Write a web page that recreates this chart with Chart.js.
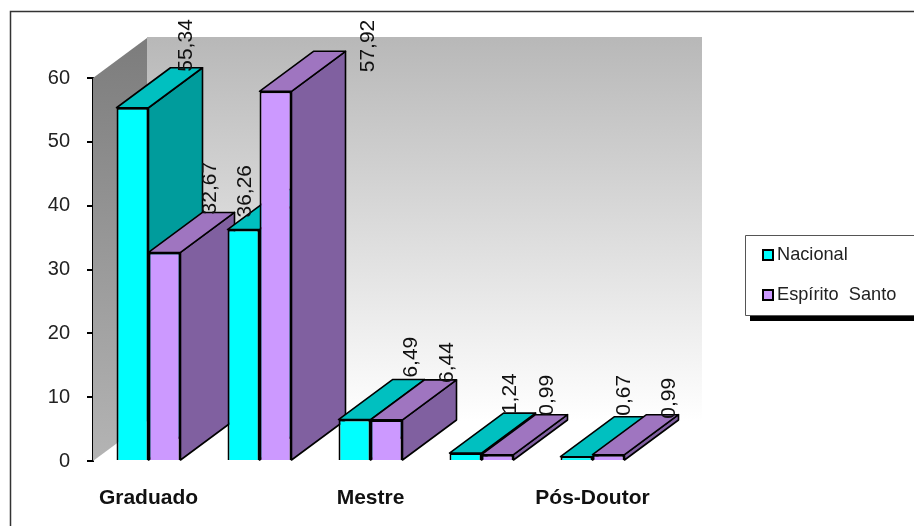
<!DOCTYPE html>
<html>
<head>
<meta charset="utf-8">
<style>
    html, body { margin: 0; padding: 0; background: #fff; }
    canvas { display: block; }
</style>
<script src="https://cdn.jsdelivr.net/npm/chart.js@4"></script>
</head>
<body>
<canvas id="chart" width="914" height="526"></canvas>
<script>
const categories = ['Graduado', '', 'Mestre', '', 'Pós-Doutor'];
const nacional = [55.34, 36.26, 6.49, 1.24, 0.67];
const espiritoSanto = [32.67, 57.92, 6.44, 0.99, 0.99];
const yTicks = [0, 10, 20, 30, 40, 50, 60];

const FONT = '"Liberation Sans", Arial, sans-serif';
const DEPTH = { x: 54, y: 40 };
const FACES = [
    { front: '#00ffff', top: '#00c0c0', side: '#009c9c' },
    { front: '#cc99ff', top: '#9f75c0', side: '#8060a0' }
];
// where Excel left each value label, relative to the top of its bar
const LABEL_SHIFT = [
    [[53.5, -36], [2, -12], [57, -42], [45, -39], [47.5, -41]],
    [[46, -38], [93, -19], [60.5, -37], [49.5, -39], [60.5, -36]]
];

function polygon(ctx, points, fill) {
    ctx.beginPath();
    points.forEach(([x, y], i) => (i ? ctx.lineTo(x, y) : ctx.moveTo(x, y)));
    ctx.closePath();
    ctx.fillStyle = fill;
    ctx.fill();
    ctx.stroke();
}

const walls = {
    id: 'walls',
    beforeDatasetsDraw(chart) {
        const { ctx, chartArea: { left, right, top, bottom } } = chart;
        const dx = DEPTH.x, dy = DEPTH.y;
        ctx.save();
        const back = ctx.createLinearGradient(0, top - dy, 0, bottom - dy);
        back.addColorStop(0, '#b8b8b8');
        back.addColorStop(1, '#ffffff');
        ctx.fillStyle = back;
        ctx.fillRect(left + dx, top - dy - 1, right - left, bottom - top + 1);

        const side = ctx.createLinearGradient(0, top - dy, 0, bottom);
        side.addColorStop(0, '#7c7c7c');
        side.addColorStop(1, '#b4b4b4');
        ctx.beginPath();
        ctx.moveTo(left, top);
        ctx.lineTo(left + dx, top - dy);
        ctx.lineTo(left + dx, bottom - dy);
        ctx.lineTo(left, bottom);
        ctx.closePath();
        ctx.fillStyle = side;
        ctx.fill();
        ctx.restore();
    }
};

// top and side faces go left to right, the fronts are the library's own bars on top
const depthFaces = {
    id: 'depthFaces',
    beforeDatasetsDraw(chart) {
        const { ctx } = chart;
        const dx = DEPTH.x, dy = DEPTH.y;
        ctx.save();
        ctx.strokeStyle = '#000';
        ctx.lineWidth = 1.6;
        ctx.lineJoin = 'round';
        categories.forEach((_, i) => {
            chart.data.datasets.forEach((ds, d) => {
                const bar = chart.getDatasetMeta(d).data[i];
                const l = bar.x - bar.width / 2, r = bar.x + bar.width / 2;
                const t = bar.y, b = bar.base;
                polygon(ctx, [[r, t], [r + dx, t - dy], [r + dx, b - dy], [r, b]], FACES[d].side);
                polygon(ctx, [[l, t], [l + dx, t - dy], [r + dx, t - dy], [r, t]], FACES[d].top);
            });
        });
        ctx.restore();
    }
};

const valueLabels = {
    id: 'valueLabels',
    afterDatasetsDraw(chart) {
        const { ctx } = chart;
        ctx.save();
        ctx.font = '21px ' + FONT;
        ctx.fillStyle = '#111';
        ctx.textAlign = 'left';
        ctx.textBaseline = 'middle';
        chart.data.datasets.forEach((ds, d) => {
            chart.getDatasetMeta(d).data.forEach((bar, i) => {
                const [sx, sy] = LABEL_SHIFT[d][i];
                ctx.save();
                ctx.translate(bar.x + sx, bar.y + sy);
                ctx.rotate(-Math.PI / 2);
                ctx.fillText(ds.data[i].toFixed(2).replace('.', ','), 0, 0);
                ctx.restore();
            });
        });
        ctx.restore();
    }
};

const frameAndLegend = {
    id: 'frameAndLegend',
    afterDraw(chart) {
        const { ctx, width, height } = chart;
        ctx.save();
        ctx.strokeStyle = '#333';
        ctx.lineWidth = 1.5;
        ctx.beginPath();
        ctx.moveTo(10.5, height);
        ctx.lineTo(10.5, 11.5);
        ctx.lineTo(width, 11.5);
        ctx.stroke();

        // legend box runs off the right edge like in the source picture
        ctx.fillStyle = '#000';
        ctx.fillRect(750, 240, width - 750, 81);
        ctx.fillStyle = '#fff';
        ctx.fillRect(745, 235, width - 745, 81);
        ctx.strokeStyle = '#555';
        ctx.lineWidth = 1;
        ctx.beginPath();
        ctx.moveTo(width, 235.5);
        ctx.lineTo(745.5, 235.5);
        ctx.lineTo(745.5, 315.5);
        ctx.lineTo(width, 315.5);
        ctx.stroke();

        ctx.font = '18.2px ' + FONT;
        ctx.textAlign = 'left';
        ctx.textBaseline = 'middle';
        chart.data.datasets.forEach((ds, d) => {
            const y = 255 + d * 40;
            ctx.fillStyle = ds.backgroundColor;
            ctx.strokeStyle = '#000';
            ctx.lineWidth = 2;
            ctx.fillRect(763, y - 5, 10, 10);
            ctx.strokeRect(763, y - 5, 10, 10);
            ctx.fillStyle = '#222';
            ctx.fillText(ds.label, 777, y);
        });
        ctx.restore();
    }
};

new Chart(document.getElementById('chart').getContext('2d'), {
    type: 'bar',
    data: {
        labels: categories,
        datasets: [
            { label: 'Nacional', data: nacional, backgroundColor: FACES[0].front },
            { label: 'Espírito  Santo', data: espiritoSanto, backgroundColor: FACES[1].front }
        ]
    },
    options: {
        responsive: false,
        animation: false,
        devicePixelRatio: 1,
        layout: { padding: { top: 78, right: 266, left: 0, bottom: 0 } },
        datasets: {
            bar: {
                categoryPercentage: 64 / 111,
                barPercentage: 1,
                borderColor: '#000',
                borderWidth: 2
            }
        },
        plugins: {
            legend: { display: false },
            tooltip: { enabled: false }
        },
        scales: {
            x: {
                afterFit: scale => { scale.height = 65; },
                grid: { display: false },
                border: { display: false },
                ticks: {
                    autoSkip: false,
                    maxRotation: 0,
                    padding: 17,
                    color: '#111',
                    font: { family: FONT, size: 21, weight: 'bold' }
                }
            },
            y: {
                min: 0,
                max: 60,
                afterFit: scale => { scale.width = 93; },
                afterBuildTicks: scale => { scale.ticks = yTicks.map(value => ({ value })); },
                grid: { drawOnChartArea: false, color: '#000', tickLength: 6, lineWidth: 2 },
                border: { color: '#000', width: 2 },
                ticks: {
                    padding: 17,
                    color: '#222',
                    font: { family: FONT, size: 20 }
                }
            }
        }
    },
    plugins: [walls, depthFaces, valueLabels, frameAndLegend]
});
</script>
</body>
</html>
